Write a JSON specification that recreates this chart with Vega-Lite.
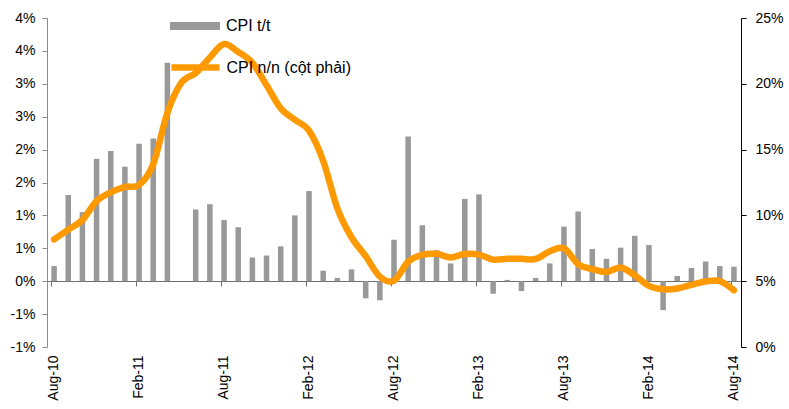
{
  "$schema": "https://vega.github.io/schema/vega-lite/v6.json",
  "width": 694,
  "height": 329,
  "autosize": {"type": "none"},
  "padding": {"left": 47, "top": 18, "right": 48, "bottom": 62},
  "background": "white",
  "config": {
    "view": {"stroke": null},
    "font": "Liberation Sans",
    "axis": {"labelFont": "Liberation Sans", "labelFontSize": 14, "labelColor": "#000000", "grid": false, "title": null}
  },
  "data": {
    "values": [
      {"m": "Aug-10", "tt": 0.23, "nn": 8.18},
      {"m": "Sep-10", "tt": 1.31, "nn": 8.92},
      {"m": "Oct-10", "tt": 1.05, "nn": 9.66},
      {"m": "Nov-10", "tt": 1.86, "nn": 11.09},
      {"m": "Dec-10", "tt": 1.98, "nn": 11.75},
      {"m": "Jan-11", "tt": 1.74, "nn": 12.17},
      {"m": "Feb-11", "tt": 2.09, "nn": 12.31},
      {"m": "Mar-11", "tt": 2.17, "nn": 13.89},
      {"m": "Apr-11", "tt": 3.32, "nn": 17.8},
      {"m": "May-11", "tt": null, "nn": 20.1},
      {"m": "Jun-11", "tt": 1.09, "nn": 20.82},
      {"m": "Jul-11", "tt": 1.17, "nn": 22.0},
      {"m": "Aug-11", "tt": 0.93, "nn": 23.02},
      {"m": "Sep-11", "tt": 0.82, "nn": 22.42},
      {"m": "Oct-11", "tt": 0.36, "nn": 21.59},
      {"m": "Nov-11", "tt": 0.39, "nn": 19.9},
      {"m": "Dec-11", "tt": 0.53, "nn": 18.13},
      {"m": "Jan-12", "tt": 1.0, "nn": 17.27},
      {"m": "Feb-12", "tt": 1.37, "nn": 16.44},
      {"m": "Mar-12", "tt": 0.16, "nn": 14.15},
      {"m": "Apr-12", "tt": 0.05, "nn": 10.54},
      {"m": "May-12", "tt": 0.18, "nn": 8.34},
      {"m": "Jun-12", "tt": -0.26, "nn": 6.9},
      {"m": "Jul-12", "tt": -0.29, "nn": 5.35},
      {"m": "Aug-12", "tt": 0.63, "nn": 5.04},
      {"m": "Sep-12", "tt": 2.2, "nn": 6.48},
      {"m": "Oct-12", "tt": 0.85, "nn": 7.0},
      {"m": "Nov-12", "tt": 0.47, "nn": 7.08},
      {"m": "Dec-12", "tt": 0.27, "nn": 6.81},
      {"m": "Jan-13", "tt": 1.25, "nn": 7.07},
      {"m": "Feb-13", "tt": 1.32, "nn": 7.02},
      {"m": "Mar-13", "tt": -0.19, "nn": 6.64},
      {"m": "Apr-13", "tt": 0.02, "nn": 6.7},
      {"m": "May-13", "tt": -0.15, "nn": 6.7},
      {"m": "Jun-13", "tt": 0.05, "nn": 6.69},
      {"m": "Jul-13", "tt": 0.27, "nn": 7.27},
      {"m": "Aug-13", "tt": 0.83, "nn": 7.5},
      {"m": "Sep-13", "tt": 1.06, "nn": 6.3},
      {"m": "Oct-13", "tt": 0.49, "nn": 5.92},
      {"m": "Nov-13", "tt": 0.34, "nn": 5.7},
      {"m": "Dec-13", "tt": 0.51, "nn": 6.04},
      {"m": "Jan-14", "tt": 0.69, "nn": 5.45},
      {"m": "Feb-14", "tt": 0.55, "nn": 4.65},
      {"m": "Mar-14", "tt": -0.44, "nn": 4.39},
      {"m": "Apr-14", "tt": 0.08, "nn": 4.45},
      {"m": "May-14", "tt": 0.2, "nn": 4.72},
      {"m": "Jun-14", "tt": 0.3, "nn": 4.98},
      {"m": "Jul-14", "tt": 0.23, "nn": 5.0},
      {"m": "Aug-14", "tt": 0.22, "nn": 4.31}
    ]
  },
  "layer": [
    {
      "mark": {"type": "bar"},
      "transform": [{"calculate": "'CPI t/t'", "as": "s1"}],
      "encoding": {
        "x": {
          "field": "m", "type": "ordinal", "sort": null,
          "scale": {
            "domain": ["Aug-10","Sep-10","Oct-10","Nov-10","Dec-10","Jan-11","Feb-11","Mar-11","Apr-11","May-11","Jun-11","Jul-11","Aug-11","Sep-11","Oct-11","Nov-11","Dec-11","Jan-12","Feb-12","Mar-12","Apr-12","May-12","Jun-12","Jul-12","Aug-12","Sep-12","Oct-12","Nov-12","Dec-12","Jan-13","Feb-13","Mar-13","Apr-13","May-13","Jun-13","Jul-13","Aug-13","Sep-13","Oct-13","Nov-13","Dec-13","Jan-14","Feb-14","Mar-14","Apr-14","May-14","Jun-14","Jul-14","Aug-14"],
            "paddingInner": 0.61, "paddingOuter": 0.305
          },
          "axis": {
            "orient": "bottom", "offset": -66, "labels": false, "bandPosition": 0,
            "values": ["Aug-10", "Feb-11", "Aug-11", "Feb-12", "Aug-12", "Feb-13", "Aug-13", "Feb-14", "Aug-14"],
            "domainColor": "#6e6e6e", "tickColor": "#6e6e6e", "tickSize": 5, "domainWidth": 1
          }
        },
        "y": {
          "field": "tt", "type": "quantitative",
          "scale": {"domain": [-1, 4], "nice": false, "zero": false},
          "axis": {
            "orient": "left",
            "values": [-1, -0.5, 0, 0.5, 1, 1.5, 2, 2.5, 3, 3.5, 4],
            "labelExpr": "(datum.value >= 0 ? ceil(datum.value - 1e-9) : floor(datum.value + 1e-9)) + '%'",
            "domainColor": "#8c8c8c", "tickColor": "#8c8c8c", "tickSize": 5, "labelPadding": 7
          }
        },
        "fill": {
          "field": "s1", "type": "nominal",
          "scale": {"range": ["#999999"]},
          "legend": {
            "orient": "none", "legendX": 123, "legendY": -17, "title": null,
            "symbolType": "M-1,-0.16H1V0.16H-1Z", "symbolSize": 2500, "symbolStrokeWidth": 0,
            "labelFontSize": 16, "labelFont": "Liberation Sans", "labelColor": "#000000", "labelOffset": 6
          }
        }
      }
    },
    {
      "mark": {"type": "line", "interpolate": "cardinal", "strokeWidth": 6.5, "strokeCap": "round", "strokeJoin": "round"},
      "transform": [{"calculate": "'CPI n/n (cột phải)'", "as": "s2"}],
      "encoding": {
        "x": {
          "field": "m", "type": "ordinal", "sort": null,
          "axis": {
            "orient": "bottom", "domain": false, "ticks": false, "labelAngle": 270, "labelPadding": 8,
            "values": ["Aug-10", "Feb-11", "Aug-11", "Feb-12", "Aug-12", "Feb-13", "Aug-13", "Feb-14", "Aug-14"]
          }
        },
        "y": {
          "field": "nn", "type": "quantitative",
          "scale": {"domain": [0, 25], "nice": false, "zero": false},
          "axis": {
            "orient": "right",
            "values": [0, 5, 10, 15, 20, 25],
            "labelExpr": "datum.value + '%'",
            "domainColor": "#000000", "tickColor": "#000000", "tickSize": 5, "labelPadding": 9
          }
        },
        "stroke": {
          "field": "s2", "type": "nominal",
          "scale": {"range": ["#FF9900"]},
          "legend": {
            "orient": "none", "legendX": 121, "legendY": 22, "title": null,
            "symbolType": "stroke", "symbolSize": 2304, "symbolStrokeWidth": 6.5,
            "labelFontSize": 16, "labelFont": "Liberation Sans", "labelColor": "#000000", "labelOffset": 3.5
          }
        }
      }
    }
  ],
  "resolve": {"scale": {"y": "independent", "fill": "independent", "stroke": "independent"}, "axis": {"x": "independent"}}
}
